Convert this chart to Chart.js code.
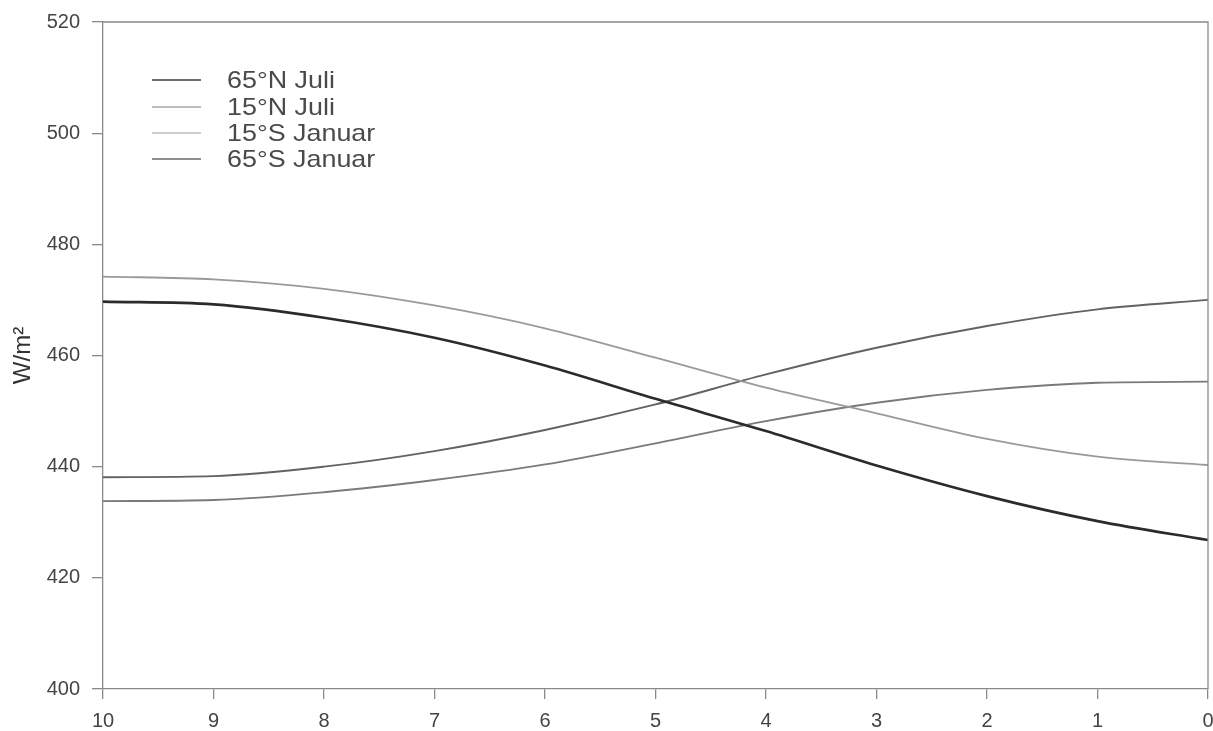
<!DOCTYPE html>
<html>
<head>
<meta charset="utf-8">
<script src="https://cdn.jsdelivr.net/npm/chart.js@4.4.1/dist/chart.umd.min.js"></script>
<style>
  html, body { margin: 0; padding: 0; background: #fff; }
  #wrap { width: 1213px; height: 731px; }
</style>
</head>
<body>
<div id="wrap"><canvas id="c" width="1213" height="731"></canvas></div>
<script>
// Time before present (kyr) and summer insolation per series
const years = [10, 9, 8, 7, 6, 5, 4, 3, 2, 1, 0];
const n65July = [469.7, 469.2, 466.8, 463.2, 458.2, 452.2, 446.4, 440.2, 434.7, 430.2, 426.8];
const n15July = [474.2, 473.7, 472.0, 469.0, 464.9, 459.6, 454.2, 449.6, 445.0, 441.8, 440.3];
const s15Jan  = [433.8, 434.0, 435.4, 437.6, 440.4, 444.2, 448.2, 451.5, 453.8, 455.1, 455.3];
const s65Jan  = [438.1, 438.3, 440.0, 442.8, 446.6, 451.2, 456.6, 461.4, 465.3, 468.3, 470.0];
const yTicks = [400, 420, 440, 460, 480, 500, 520];

const labels = ['65°N Juli', '15°N Juli', '15°S Januar', '65°S Januar'];
const seriesValues = [n65July, n15July, s15Jan, s65Jan];
const colors = ['#2b2b2b', '#9a9a9a', '#7a7a7a', '#626262'];
const widths = [2.6, 1.8, 1.8, 1.9];
const legendColors = ['#3a3a3a', '#a8a8a8', '#bdbdbd', '#6a6a6a'];

const datasets = seriesValues.map((vals, i) => ({
  label: labels[i],
  data: years.map((x, k) => ({ x: x, y: vals[k] })),
  borderColor: colors[i],
  borderWidth: widths[i],
  pointRadius: 0,
  fill: false,
  cubicInterpolationMode: 'monotone'
}));

// Frame around the plot area plus an inset legend
const framePlugin = {
  id: 'frameAndLegend',
  afterDraw(chart) {
    const ctx = chart.ctx;
    const a = chart.chartArea;
    ctx.save();
    ctx.strokeStyle = '#8a8a8a';
    ctx.lineWidth = 1.3;
    ctx.beginPath();
    ctx.moveTo(a.left, a.top);
    ctx.lineTo(a.right, a.top);
    ctx.lineTo(a.right, a.bottom);
    ctx.stroke();

    const rowY = [80, 107, 133, 159];
    ctx.font = '24px "Liberation Sans", Arial, sans-serif';
    ctx.textBaseline = 'middle';
    chart.data.datasets.forEach((ds, i) => {
      ctx.strokeStyle = legendColors[i];
      ctx.lineWidth = 1.6;
      ctx.beginPath();
      ctx.moveTo(152, rowY[i]);
      ctx.lineTo(201, rowY[i]);
      ctx.stroke();
      ctx.save();
      ctx.translate(227, rowY[i] + 1);
      ctx.scale(1.12, 1);
      ctx.fillStyle = '#4a4a4a';
      ctx.fillText(ds.label, 0, 0);
      ctx.restore();
    });
    ctx.restore();
  }
};

new Chart(document.getElementById('c'), {
  type: 'line',
  data: { datasets },
  plugins: [framePlugin],
  options: {
    responsive: false,
    animation: false,
    layout: { padding: { top: 22, right: 5, bottom: 0, left: 0 } },
    plugins: { legend: { display: false }, tooltip: { enabled: false } },
    scales: {
      x: {
        type: 'linear',
        reverse: true,
        min: 0,
        max: 10,
        afterFit(scale) {
          scale.height = 42;
          scale.paddingLeft = 0;
          scale.paddingRight = 0;
        },
        ticks: {
          stepSize: 1,
          autoSkip: false,
          maxRotation: 0,
          padding: 10,
          color: '#444',
          font: { family: '"Liberation Sans", Arial, sans-serif', size: 20 }
        },
        grid: { display: true, drawOnChartArea: false, drawTicks: true, tickLength: 10, color: '#8a8a8a', lineWidth: 1.3 },
        border: { display: true, color: '#8a8a8a', width: 1.3 }
      },
      y: {
        type: 'linear',
        min: 400,
        max: 520,
        afterFit(scale) {
          scale.width = 103;
          scale.paddingTop = 0;
          scale.paddingBottom = 0;
        },
        afterBuildTicks(scale) { scale.ticks = yTicks.map(v => ({ value: v })); },
        ticks: {
          padding: 12,
          color: '#444',
          font: { family: '"Liberation Sans", Arial, sans-serif', size: 20 }
        },
        grid: { display: true, drawOnChartArea: false, drawTicks: true, tickLength: 11, color: '#8a8a8a', lineWidth: 1.3 },
        border: { display: true, color: '#8a8a8a', width: 1.3 },
        title: {
          display: true,
          text: 'W/m²',
          color: '#333',
          padding: { top: 9, bottom: 0 },
          font: { family: '"Liberation Sans", Arial, sans-serif', size: 24 }
        }
      }
    }
  }
});
</script>
</body>
</html>
